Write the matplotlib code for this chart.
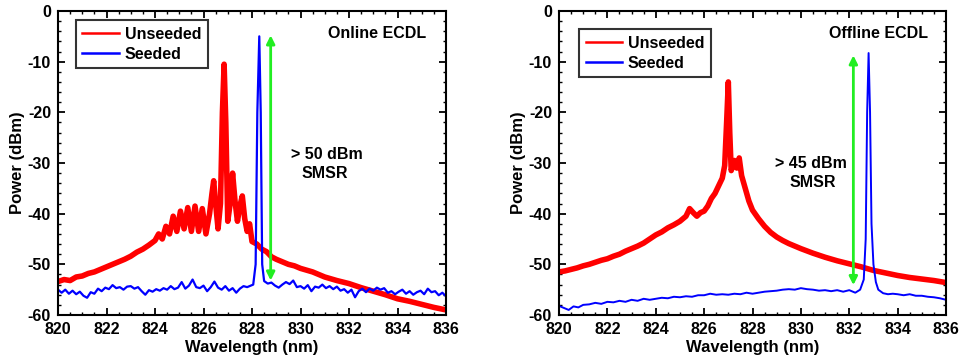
import matplotlib
matplotlib.use("Agg")
import matplotlib.pyplot as plt
from matplotlib.lines import Line2D
from matplotlib.ticker import MultipleLocator

plt.rcParams['font.family'] = ['Liberation Sans', 'DejaVu Sans']
plt.rcParams['font.weight'] = 'bold'
plt.rcParams['axes.unicode_minus'] = False

# ---------------- data ----------------
xticks = [820, 822, 824, 826, 828, 830, 832, 834, 836]
yticks = [0, -10, -20, -30, -40, -50, -60]

online_unseeded_wl = [820.0, 820.25, 820.5, 820.75, 821.0, 821.25, 821.5, 821.75, 822.0, 822.25,
    822.5, 822.75, 823.0, 823.25, 823.5, 823.75, 824.0, 824.15, 824.3, 824.45, 824.6, 824.75,
    824.9, 825.05, 825.2, 825.35, 825.5, 825.65, 825.8, 825.95, 826.1, 826.25, 826.35, 826.42,
    826.5, 826.6, 826.7, 826.78, 826.85, 826.92, 827.0, 827.1, 827.2, 827.3, 827.4, 827.5,
    827.6, 827.7, 827.8, 827.9, 828.0, 828.2, 828.4, 828.6, 828.8, 829.0, 829.25, 829.5,
    829.75, 830.0, 830.5, 831.0, 831.5, 832.0, 832.5, 833.0, 833.5, 834.0, 834.5, 835.0,
    835.5, 836.0]
online_unseeded_pw = [-53.4, -53.0, -53.2, -52.5, -52.3, -51.8, -51.5, -51.0, -50.5, -50.0,
    -49.5, -49.0, -48.4, -47.6, -47.0, -46.2, -45.3, -44.0, -45.0, -42.5, -44.0, -40.5,
    -43.5, -39.5, -43.0, -38.8, -43.5, -38.5, -43.5, -39.0, -44.0, -40.0, -36.0, -33.5,
    -38.0, -43.0, -38.0, -20.0, -10.5, -22.0, -41.5, -38.0, -32.0, -37.5, -41.5, -38.5,
    -36.5, -41.0, -43.5, -42.0, -45.5, -46.0, -47.0, -47.5, -48.5, -49.0, -49.5, -50.0,
    -50.3, -50.8, -51.5, -52.5, -53.2, -53.8, -54.6, -55.3, -56.0, -56.8, -57.3, -57.9,
    -58.5, -59.0]

online_seeded_wl = [820.0, 820.15, 820.3, 820.45, 820.6, 820.75, 820.9, 821.05, 821.2, 821.35,
    821.5, 821.65, 821.8, 821.95, 822.1, 822.25, 822.4, 822.55, 822.7, 822.85, 823.0, 823.15,
    823.3, 823.45, 823.6, 823.75, 823.9, 824.05, 824.2, 824.35, 824.5, 824.65, 824.8, 824.95,
    825.1, 825.25, 825.4, 825.55, 825.7, 825.85, 826.0, 826.15, 826.3, 826.45, 826.6, 826.75,
    826.9, 827.05, 827.2, 827.35, 827.5, 827.65, 827.8, 827.95, 828.05, 828.15, 828.22, 828.3,
    828.36, 828.42, 828.5, 828.65, 828.8, 828.95, 829.1, 829.25, 829.4, 829.55, 829.7, 829.85,
    830.0, 830.15, 830.3, 830.45, 830.6, 830.75, 830.9, 831.05, 831.2, 831.35, 831.5, 831.65,
    831.8, 831.95, 832.1, 832.25, 832.4, 832.55, 832.7, 832.85, 833.0, 833.15, 833.3, 833.45,
    833.6, 833.75, 833.9, 834.05, 834.2, 834.35, 834.5, 834.65, 834.8, 834.95, 835.1, 835.25,
    835.4, 835.55, 835.7, 835.85, 836.0]
online_seeded_pw = [-55.0, -55.6, -55.0, -55.8, -55.2, -55.9, -55.4, -56.2, -56.6, -55.5,
    -55.8, -54.8, -55.3, -54.6, -54.9, -54.1, -54.7, -54.5, -55.0, -54.4, -54.3, -54.8,
    -54.5, -55.3, -56.0, -55.1, -55.4, -54.9, -55.2, -54.7, -55.0, -54.3, -54.9, -54.6,
    -53.5, -54.8, -54.2, -53.0, -54.5, -54.7, -54.2, -55.3, -54.5, -53.4, -54.6, -55.0,
    -54.3, -55.2, -54.7, -55.6, -54.8, -54.3, -54.5, -54.2, -54.0, -50.0, -20.0, -5.0,
    -20.0, -50.0, -53.3, -53.8, -53.6, -54.2, -54.6, -54.0, -53.5, -53.9, -53.2, -54.5,
    -54.3, -54.8, -54.1, -55.3, -54.4, -54.6, -54.0, -54.7, -54.3, -54.9, -54.4, -55.2,
    -54.9, -55.6, -55.0, -56.5, -55.3, -54.8, -55.5, -54.8, -55.2, -54.6, -55.0, -54.7,
    -55.6, -55.3, -55.9, -55.4, -55.0, -55.8, -55.3, -56.0, -55.5, -55.2, -55.9, -54.8,
    -55.5, -55.3, -56.1, -55.6, -56.3]

offline_unseeded_wl = [820.0, 820.25, 820.5, 820.75, 821.0, 821.25, 821.5, 821.75, 822.0, 822.25,
    822.5, 822.75, 823.0, 823.25, 823.5, 823.75, 824.0, 824.25, 824.5, 824.75, 825.0, 825.25,
    825.4, 825.55, 825.7, 825.85, 826.0, 826.15, 826.3, 826.45, 826.6, 826.75, 826.85, 826.93,
    827.0, 827.06, 827.12, 827.25, 827.35, 827.45, 827.55, 827.7, 827.85, 828.0, 828.25, 828.5,
    828.75, 829.0, 829.25, 829.5, 829.75, 830.0, 830.5, 831.0, 831.5, 832.0, 832.5, 833.0,
    833.5, 834.0, 834.5, 835.0, 835.5, 836.0]
offline_unseeded_pw = [-51.5, -51.3, -51.0, -50.7, -50.3, -50.0, -49.6, -49.2, -48.9, -48.4,
    -48.0, -47.4, -46.9, -46.4, -45.8, -45.0, -44.2, -43.6, -42.8, -42.2, -41.5, -40.5,
    -39.0, -39.8, -40.5, -39.8, -39.5, -38.5, -37.0, -36.0, -34.5, -33.0, -30.5, -22.0,
    -14.0, -24.0, -31.5, -29.5, -31.0, -29.0, -32.5, -35.0, -37.5, -39.3, -41.0, -42.5,
    -43.7, -44.6, -45.3, -45.9, -46.4, -46.9, -47.8, -48.6, -49.3, -49.9, -50.5, -51.2,
    -51.7, -52.2, -52.6, -52.9, -53.2, -53.6]

offline_seeded_wl = [820.0, 820.2, 820.4, 820.6, 820.8, 821.0, 821.25, 821.5, 821.75, 822.0,
    822.25, 822.5, 822.75, 823.0, 823.25, 823.5, 823.75, 824.0, 824.25, 824.5, 824.75, 825.0,
    825.25, 825.5, 825.75, 826.0, 826.25, 826.5, 826.75, 827.0, 827.25, 827.5, 827.75, 828.0,
    828.25, 828.5, 828.75, 829.0, 829.25, 829.5, 829.75, 830.0, 830.25, 830.5, 830.75, 831.0,
    831.25, 831.5, 831.75, 832.0, 832.25, 832.45, 832.6, 832.68, 832.74, 832.8, 832.86, 832.92,
    833.0, 833.1, 833.2, 833.4, 833.6, 833.8, 834.0, 834.25, 834.5, 834.75, 835.0, 835.25,
    835.5, 835.75, 836.0]
offline_seeded_pw = [-58.2, -58.6, -59.0, -58.3, -58.5, -58.0, -57.9, -57.6, -57.8, -57.4,
    -57.5, -57.2, -57.4, -57.0, -57.2, -56.8, -57.0, -56.8, -56.6, -56.7, -56.4, -56.5,
    -56.3, -56.4, -56.1, -56.1, -55.8, -56.0, -55.9, -56.0, -55.8, -55.9, -55.6, -55.8,
    -55.6, -55.4, -55.3, -55.2, -55.0, -54.9, -55.0, -54.7, -54.9, -55.0, -55.2, -55.1,
    -55.3, -55.1, -55.4, -55.1, -55.6, -55.0, -53.0, -45.0, -20.0, -8.3, -20.0, -42.0,
    -50.0, -53.5, -55.0, -55.7, -55.9, -55.8, -55.9, -56.1, -55.9, -56.2, -56.2, -56.4,
    -56.5, -56.7, -57.0]

# annotations
online_arrow = (828.77, -4.8, -53.2)
offline_arrow = (832.17, -8.75, -54.1)
online_smsr = "> 50 dBm"
offline_smsr = "> 45 dBm"
titles = ["Online ECDL", "Offline ECDL"]

RED = '#ff0000'
BLUE = '#0000ff'
GREEN = '#22ee22'
FS = 11.5

fig = plt.figure(figsize=(9.61, 3.60), dpi=100)
ax1 = fig.add_axes([58/961, 45/360, 388/961, 304/360])
ax2 = fig.add_axes([559/961, 45/360, 387/961, 304/360])

def style(ax):
    ax.set_xlim(820, 836)
    ax.set_ylim(-60, 0)
    ax.set_xticks(xticks)
    ax.set_yticks(yticks)
    ax.xaxis.set_minor_locator(MultipleLocator(0.5))
    ax.yaxis.set_minor_locator(MultipleLocator(2))
    ax.tick_params(which='major', direction='in', length=5, width=1.3, top=True, right=True,
                   labelsize=FS, pad=5)
    ax.tick_params(which='minor', direction='in', length=2.5, width=1.0, top=True, right=True)
    for lab in ax.get_xticklabels() + ax.get_yticklabels():
        lab.set_fontweight('bold')
    for s in ax.spines.values():
        s.set_linewidth(1.5)
    ax.set_xlabel('Wavelength (nm)', fontsize=FS + 0.5, fontweight='bold', labelpad=2)
    ax.set_ylabel('Power (dBm)', fontsize=FS + 0.5, fontweight='bold', labelpad=2)

def arrow(ax, x, y1, y2):
    ax.annotate('', xy=(x, y1), xytext=(x, y2),
                arrowprops=dict(arrowstyle='<|-|>', color=GREEN, lw=2,
                                mutation_scale=12, shrinkA=0, shrinkB=0))

# left panel
ax1.plot(online_unseeded_wl, online_unseeded_pw, color=RED, lw=4.0, solid_joinstyle='round')
ax1.plot(online_seeded_wl, online_seeded_pw, color=BLUE, lw=1.6)
arrow(ax1, *online_arrow)
ax1.text(829.6, -28.3, online_smsr, fontsize=FS, fontweight='bold', va='center', ha='left')
ax1.text(831.0, -32.0, "SMSR", fontsize=FS, fontweight='bold', va='center', ha='center')
ax1.text(835.2, -4.5, titles[0], fontsize=FS, fontweight='bold', va='center', ha='right')
style(ax1)

# right panel
ax2.plot(offline_unseeded_wl, offline_unseeded_pw, color=RED, lw=4.0, solid_joinstyle='round')
ax2.plot(offline_seeded_wl, offline_seeded_pw, color=BLUE, lw=1.4)
arrow(ax2, *offline_arrow)
ax2.text(828.95, -30.1, offline_smsr, fontsize=FS, fontweight='bold', va='center', ha='left')
ax2.text(830.5, -33.9, "SMSR", fontsize=FS, fontweight='bold', va='center', ha='center')
ax2.text(835.25, -4.5, titles[1], fontsize=FS, fontweight='bold', va='center', ha='right')
style(ax2)

handles = [Line2D([], [], color=RED, lw=1.8), Line2D([], [], color=BLUE, lw=1.8)]
for ax, loc in ((ax1, (0.034, 0.985)), (ax2, (0.04, 0.955))):
    leg = ax.legend(handles, ['Unseeded', 'Seeded'], loc='upper left', bbox_to_anchor=loc,
                    frameon=True, fancybox=False, fontsize=FS, handlelength=2.3,
                    handletextpad=0.35, borderpad=0.4, labelspacing=0.3, borderaxespad=0.3)
    leg.get_frame().set_edgecolor('black')
    leg.get_frame().set_linewidth(1.5)
    for t in leg.get_texts():
        t.set_fontweight('bold')

fig.savefig('out.png', dpi=100)
